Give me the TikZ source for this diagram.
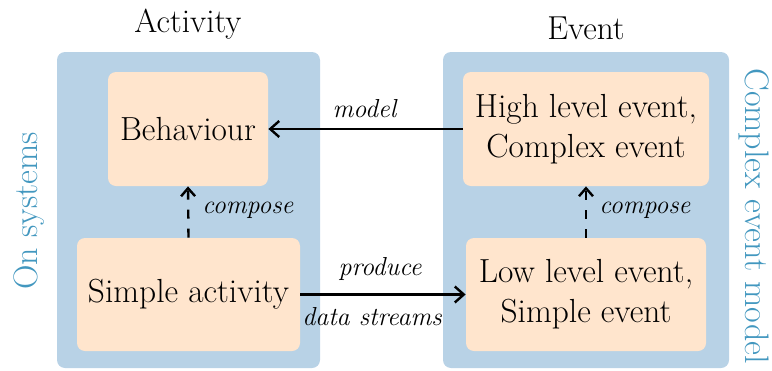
\documentclass[tikz,border=0pt]{standalone}
\usetikzlibrary{arrows.meta}
\definecolor{panelblue}{RGB}{184,210,230}
\definecolor{boxorange}{RGB}{255,229,205}
\definecolor{sideteal}{RGB}{66,151,191}
\tikzset{
  panel/.style={fill=panelblue, draw=none, rounded corners=4pt, inner sep=0pt},
  itembox/.style={fill=boxorange, draw=none, rounded corners=4pt, inner sep=0pt, align=center,
    font=\fontsize{16.7}{20}\selectfont},
  title/.style={anchor=base, inner sep=0pt, font=\fontsize{16.6}{19}\selectfont},
  sidelabel/.style={anchor=base, inner sep=0pt, text=sideteal, font=\fontsize{17}{20}\selectfont},
  edgelabel/.style={inner sep=0pt, font=\fontsize{13}{16}\selectfont\itshape},
  solidarrow/.style={line width=1.2pt, -{Straight Barb[length=4.5pt,width=8pt]}},
  dasharrow/.style={line width=1.2pt, dash pattern=on 4.5pt off 5pt, -{Straight Barb[length=4pt,width=7pt]}}
}
\begin{document}
\begin{tikzpicture}[x=0.5pt,y=-0.5pt]
\useasboundingbox (0,0) rectangle (772,370);
% panels
\node[panel, minimum width=131.5pt, minimum height=158pt] (lpanel) at (188.5,210) {};
\node[panel, minimum width=143pt, minimum height=158pt] (rpanel) at (586,210) {};
% boxes
\node[itembox, minimum width=80pt, minimum height=57pt] (beh) at (188,129) {Behaviour};
\node[itembox, minimum width=111.5pt, minimum height=56.5pt] (simple) at (188.5,294.5) {Simple activity};
\node[itembox, minimum width=123pt, minimum height=57pt] (high) at (586,129) {High level event,\\Complex event};
\node[itembox, minimum width=120pt, minimum height=56.5pt] (low) at (586,294.5) {Low level event,\\Simple event};
% titles
\node[title] (tact) at (188,32) {Activity};
\node[title] (tevt) at (586,39) {Event};
% side labels
\node[sidelabel, rotate=90] (lside) at (37,211) {On systems};
\node[sidelabel, rotate=-90] (rside) at (745.5,216) {Complex event model};
% connectors
\draw[solidarrow] (high.west) -- (beh.east);
\draw[solidarrow] (simple.east) -- (low.west);
\draw[dasharrow] (simple.north) -- (beh.south);
\draw[dasharrow] (low.north) -- (high.south);
% connector labels
\node[edgelabel, anchor=base] (lmodel) at (364.5,117) {model};
\node[edgelabel, anchor=base] (lproduce) at (380,275) {produce};
\node[edgelabel, anchor=base] (ldata) at (372,325) {data streams};
\node[edgelabel, anchor=base west] (lcomp1) at (202,213) {compose};
\node[edgelabel, anchor=base west] (lcomp2) at (599,213) {compose};
\end{tikzpicture}
\end{document}
